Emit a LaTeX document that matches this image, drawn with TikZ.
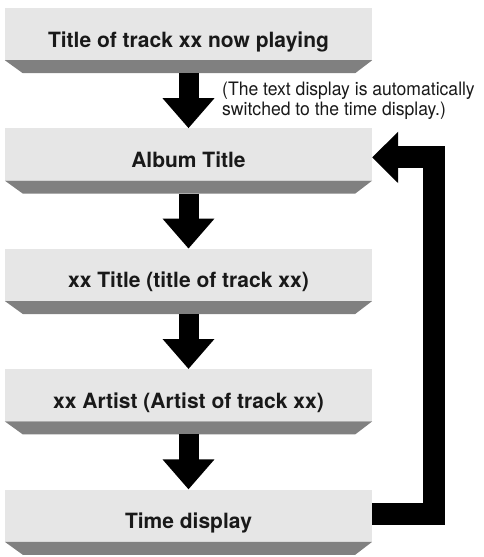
\documentclass[tikz,border=0pt]{standalone}
\usepackage{fontspec}
\setmainfont{TeX Gyre Heros}
\newfontfamily\notefont[FakeStretch=0.95]{TeX Gyre Heros}
\usetikzlibrary{
    arrows.meta,
    positioning,
    calc
}
\definecolor{screenfill}{HTML}{E6E6E6}
\definecolor{bevelfill}{HTML}{808080}

\begin{document}
\begin{tikzpicture}[
    x=1pt, y=1pt,
    node distance=68pt,
    screen/.style={rectangle, fill=screenfill, minimum width=367pt,
      inner xsep=0pt, inner ysep=0pt, text height=39pt, text depth=13pt,
      font=\fontsize{21}{25}\selectfont\bfseries, text=black!90},
    bevel/.style={fill=bevelfill},
    flow/.style={line width=20pt, -{Triangle[length=30pt, width=50pt]}},
    back/.style={line width=22pt, line join=miter,
      -{Triangle[length=26pt, width=50pt]}},
    note/.style={font=\notefont\fontsize{18.5}{20}\selectfont, text=black!90,
      align=left, anchor=north west, inner sep=0pt}
]
\useasboundingbox (0,0) rectangle (483,-557);
\node[screen] (now) at (188.5,-34) {Title of track xx now playing};
\node[screen, below=of now] (album) {Album Title};
\node[screen, below=of album] (title) {xx Title (title of track xx)};
\node[screen, below=of title] (artist) {xx Artist (Artist of track xx)};
\node[screen, below=of artist] (time) {Time display};
\node[note] (hint) at (222,-82) {(The text display is automatically\\switched to the time display.)};

% bevelled lower edge of every screen
\foreach \n in {now,album,title,artist,time}
  \fill[bevel] (\n.south west) -- (\n.south east) -- ++(-17,-13)
    -- ($(\n.south west)+(18,-13)$) -- cycle;

\foreach \a/\b in {now/album, album/title, title/artist, artist/time}
  \draw[flow] ([yshift=-13pt]\a.south) -- (\b.north);

\draw[back] ([yshift=1.5pt]time.east) -| ([xshift=62pt,yshift=-3pt]album.east)
  -- ([yshift=-3pt]album.east);
\end{tikzpicture}
\end{document}
